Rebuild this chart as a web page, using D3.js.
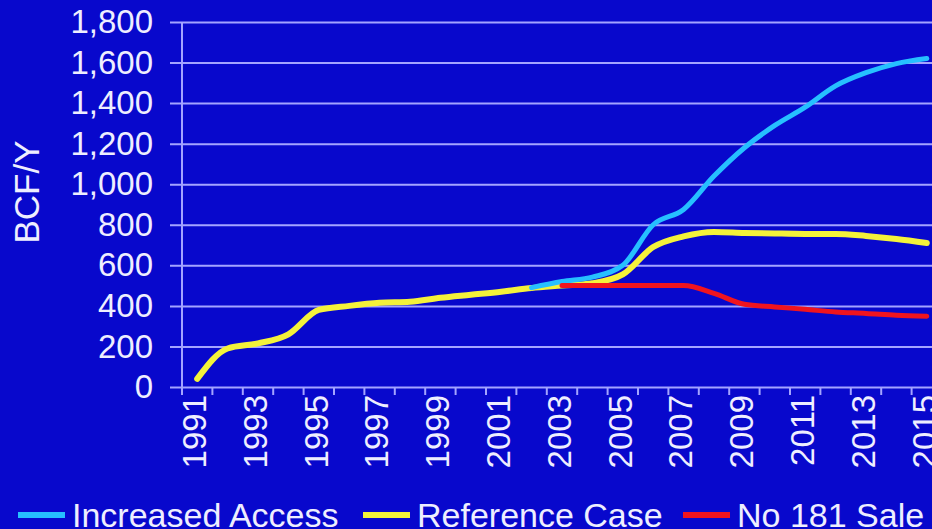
<!DOCTYPE html>
<html>
<head>
<meta charset="utf-8">
<script src="https://cdn.jsdelivr.net/npm/d3@7"></script>
<style>
    html, body { margin: 0; padding: 0; background: #0808cc; overflow: hidden; }
    svg { display: block; font-family: "Liberation Sans", Arial, sans-serif; }
</style>
</head>
<body>
<div id="chart"></div>
<script>
const years = d3.range(1991, 2016);
const yTicks = [0, 200, 400, 600, 800, 1000, 1200, 1400, 1600, 1800];

// BCF per year
const referenceYears = d3.range(1991, 2016);
const referenceCase = [40, 190, 215, 260, 380, 400, 415, 420, 440, 455, 470, 488, 500, 512, 555,
    690, 743, 765, 760, 757, 755, 755, 745, 730, 710];

const accessYears = d3.range(2002, 2016);
const increasedAccess = [490, 520, 542, 600, 800, 875, 1040, 1180, 1290, 1380, 1485, 1550, 1595, 1620];

const saleYears = d3.range(2003, 2016);
const no181Sale = [500, 500, 500, 500, 500, 462, 408, 395, 383, 370, 363, 354, 349];

const series = [
    { name: "Reference Case", color: "#f4f23a", width: 6, years: referenceYears, values: referenceCase },
    { name: "Increased Access", color: "#26c0ff", width: 5, years: accessYears, values: increasedAccess },
    { name: "No 181 Sale", color: "#f0141e", width: 5, years: saleYears, values: no181Sale }
];
const legendOrder = ["Increased Access", "Reference Case", "No 181 Sale"];

const width = 932;
const height = 529;
const plotLeft = 182;
const plotTop = 22;
const plotBottom = 387;
const step = 30.4;

const svg = d3.select("#chart")
    .append("svg")
    .attr("width", width)
    .attr("height", height);

const xScale = d3.scaleBand()
    .domain(years)
    .range([plotLeft, plotLeft + step * years.length])
    .padding(0);

const yScale = d3.scaleLinear()
    .domain([0, 1800])
    .range([plotBottom, plotTop]);

const textColor = "#eeeeff";
const gridColor = "#a4a4ff";

// gridlines + y labels
const yAxis = svg.append("g")
    .attr("transform", `translate(${plotLeft}, 0)`)
    .call(d3.axisLeft(yScale).tickValues(yTicks).tickFormat(d3.format(",")).tickSize(12).tickPadding(17));
yAxis.select(".domain").remove();
yAxis.selectAll(".tick line")
    .attr("x2", width - plotLeft)
    .attr("x1", -12)
    .attr("stroke", gridColor)
    .attr("stroke-width", 2);
yAxis.selectAll(".tick text")
    .attr("fill", textColor)
    .attr("font-size", "33px")
    .attr("font-family", "Liberation Sans, Arial, sans-serif");

// vertical axis line
svg.append("line")
    .attr("x1", plotLeft).attr("x2", plotLeft)
    .attr("y1", plotTop).attr("y2", plotBottom + 8)
    .attr("stroke", gridColor)
    .attr("stroke-width", 2);

// x ticks at category boundaries
svg.append("g")
    .selectAll("line")
    .data(years)
    .join("line")
    .attr("x1", d => xScale(d) + step).attr("x2", d => xScale(d) + step)
    .attr("y1", plotBottom).attr("y2", plotBottom + 8)
    .attr("stroke", gridColor)
    .attr("stroke-width", 2);

// x labels every other year
svg.append("g")
    .selectAll("text")
    .data(years.filter((d, i) => i % 2 == 0))
    .join("text")
    .attr("transform", d => `translate(${xScale(d) + step / 2 - 3}, 395) rotate(-90)`)
    .attr("text-anchor", "end")
    .attr("dy", "0.36em")
    .attr("fill", textColor)
    .attr("font-size", "33px")
    .text(d => d);

// y title
svg.append("text")
    .attr("transform", "translate(26, 192) rotate(-90)")
    .attr("text-anchor", "middle")
    .attr("dy", "0.36em")
    .attr("fill", textColor)
    .attr("font-size", "35px")
    .text("BCF/Y");

// lines
const line = d3.line()
    .x(d => xScale(d[0]) + step / 2)
    .y(d => yScale(d[1]))
    .curve(d3.curveMonotoneX);

for (let s of series) {
    svg.append("path")
        .datum(s.years.map((y, i) => [y, s.values[i]]))
        .attr("d", line)
        .attr("fill", "none")
        .attr("stroke", s.color)
        .attr("stroke-width", s.width)
        .attr("stroke-linejoin", "round")
        .attr("stroke-linecap", "round");
}

// legend
const legendX = [18, 363, 683];
legendOrder.forEach(function (name, i) {
    const s = series.find(d => d.name == name);
    svg.append("line")
        .attr("x1", legendX[i]).attr("x2", legendX[i] + 47)
        .attr("y1", 515).attr("y2", 515)
        .attr("stroke", s.color)
        .attr("stroke-width", 6);
    svg.append("text")
        .attr("x", legendX[i] + 54)
        .attr("y", 527)
        .attr("fill", textColor)
        .attr("font-size", "34px")
        .text(name);
});
</script>
</body>
</html>
